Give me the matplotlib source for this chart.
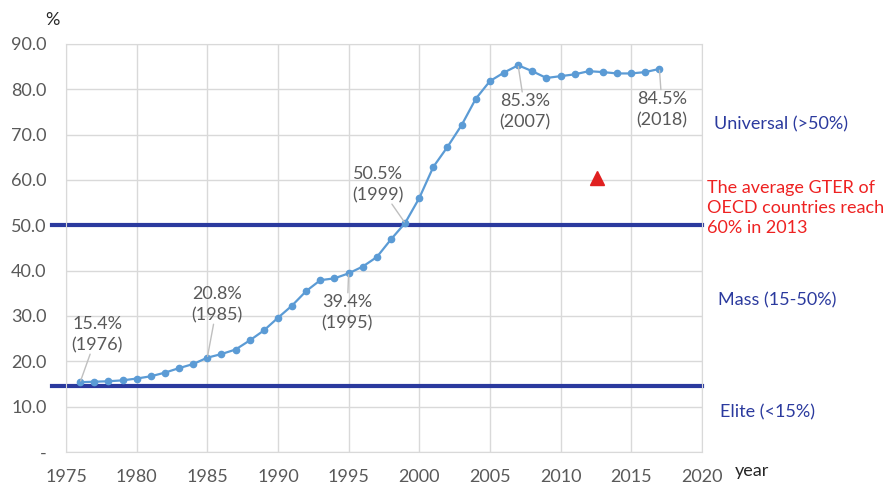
import matplotlib.pyplot as plt

# ==========================================
# DATA
# ==========================================
years = list(range(1976, 2018))
gter = [15.4, 15.5, 15.6, 15.8, 16.2, 16.7, 17.5, 18.5, 19.4, 20.8,
        21.6, 22.6, 24.6, 26.8, 29.6, 32.3, 35.5, 37.9, 38.3, 39.4,
        40.9, 43.0, 46.9, 50.5, 56.0, 62.9, 67.3, 72.1, 77.9, 81.8,
        83.7, 85.3, 84.0, 82.5, 82.9, 83.3, 84.0, 83.8, 83.5, 83.5,
        83.8, 84.5]

# annotated points: (year of point, label)
annot_years = [1976, 1985, 1995, 1999, 2007, 2017]
annot_labels = ['15.4%\n(1976)', '20.8%\n(1985)', '39.4%\n(1995)',
                '50.5%\n(1999)', '85.3%\n(2007)', '84.5%\n(2018)']
# label position (x year, y value)
annot_text_pos = [(1977.2, 25.9), (1985.7, 32.5), (1994.9, 30.8),
                  (1997.1, 59.0), (2007.5, 75.1), (2017.2, 75.6)]

elite_line = 14.5
universal_line = 50.0
oecd_year = 2012.6
oecd_value = 60.5

ticks_x = list(range(1975, 2025, 5))
ticks_y = list(range(0, 100, 10))
tick_labels_y = ['-'] + ['%.1f' % v for v in ticks_y[1:]]

# ==========================================
# PLOT
# ==========================================
plt.rcParams['font.family'] = ['Lato', 'DejaVu Sans']

fig = plt.figure(figsize=(8.85, 4.87), dpi=100)
ax = fig.add_axes([0.0746, 0.0719, 0.7184, 0.8378])

ax.set_xlim(1975, 2020)
ax.set_ylim(0, 90)
ax.set_xticks(ticks_x)
ax.set_yticks(ticks_y)
ax.set_yticklabels(tick_labels_y)
ax.tick_params(length=0, labelsize=13, colors='#595959', pad=14)
ax.tick_params(axis='x', pad=12)
ax.grid(True, color='#d9d9d9', linewidth=1)
for s in ax.spines.values():
    s.set_color('#d9d9d9')
ax.set_axisbelow(True)

navy = '#2b3a9e'
ax.plot([1974, 2020], [universal_line, universal_line], color=navy,
        linewidth=3, clip_on=False, zorder=2)
ax.plot([1974, 2020], [elite_line, elite_line], color=navy,
        linewidth=3, clip_on=False, zorder=2)

ax.plot(years, gter, color='#5b9bd5', linewidth=1.6, marker='o',
        markersize=4.5, zorder=3)

for yr, lab, pos in zip(annot_years, annot_labels, annot_text_pos):
    val = gter[years.index(yr)]
    ax.annotate(lab, xy=(yr, val), xytext=pos, ha='center', va='center',
                fontsize=13, color='#595959', linespacing=1.4,
                bbox=dict(boxstyle='square,pad=0.05', fc='none', ec='none'),
                arrowprops=dict(arrowstyle='-', color='#bfbfbf', lw=1,
                                shrinkA=0, shrinkB=1))

ax.plot([oecd_year], [oecd_value], marker='^', color='#e02020',
        markersize=10, linestyle='none', zorder=3)

# right side labels
fig.text(714 / 885, 1 - 124 / 487, 'Universal (>50%)', color=navy,
         fontsize=13, va='center')
fig.text(707 / 885, 1 - 208 / 487,
         'The average GTER of\nOECD countries reach\n60% in 2013',
         color='#ee2222', fontsize=13, va='center', linespacing=1.3)
fig.text(718 / 885, 1 - 300 / 487, 'Mass (15-50%)', color=navy,
         fontsize=13, va='center')
fig.text(720 / 885, 1 - 412 / 487, 'Elite (<15%)', color=navy,
         fontsize=13, va='center')
fig.text(735 / 885, 1 - 471 / 487, 'year', color='#262626',
         fontsize=13, va='center')
fig.text(52 / 885, 1 - 20 / 487, '%', color='#262626',
         fontsize=13, va='center', ha='center')

fig.savefig('out.png', dpi=100)
